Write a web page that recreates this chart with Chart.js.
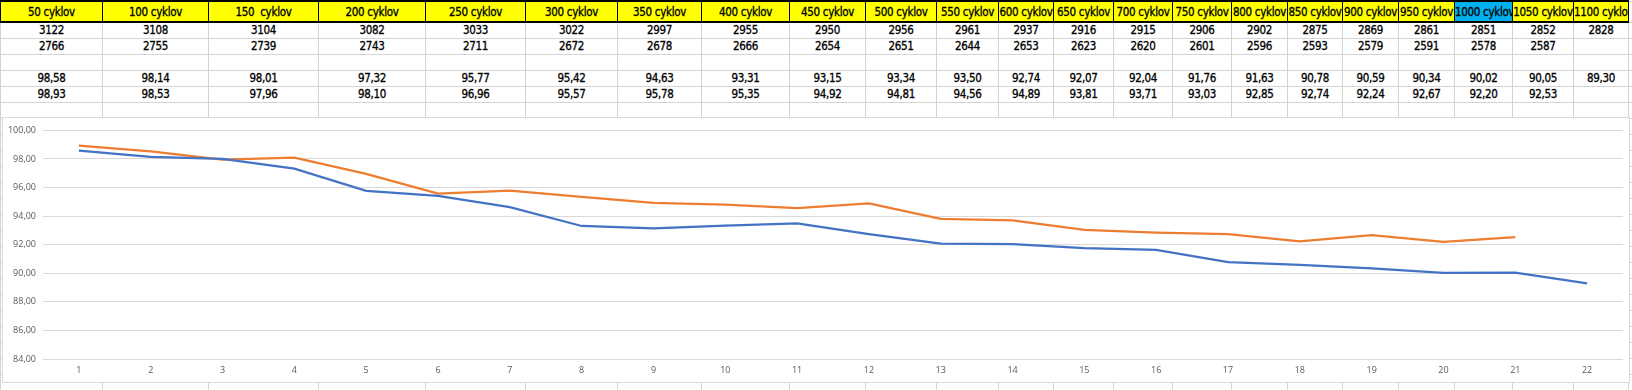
<html>
    <head>
        <title>cykly</title>
        <script src="https://cdn.jsdelivr.net/npm/chart.js@4.4.1/dist/chart.umd.min.js"></script>
        <style>
            body, html {
                margin: 0;
                padding: 0;
                width: 1632px;
                height: 390px;
                overflow: hidden;
                background: #fff;
            }
            * { box-sizing: border-box; }
            #sheet {
                position: absolute;
                left: 0;
                top: 0;
                width: 1632px;
                border-collapse: collapse;
                table-layout: fixed;
                font-family: "Liberation Sans Narrow", "DejaVu Sans Condensed", Lato, sans-serif;
                font-size: 11.5px;
                letter-spacing: -0.3px;
                -webkit-text-stroke: 0.3px #000;
                color: #000;
            }
            #sheet td {
                border: 1px solid #d4d4d4;
                height: 16px;
                padding: 0;
                text-align: center;
                white-space: pre;
                overflow: hidden;
                line-height: 14px;
            }
            #sheet tr.head td {
                height: 21px;
                background: #ffff00;
                border: 1px solid #000;
                border-top: 2px solid #000;
                border-bottom: 2px solid #000;
            }
            #sheet tr.head td.sel { background: #00b0f0; }
            #chartBox {
                position: absolute;
                left: 2px;
                top: 117px;
                width: 1628px;
                height: 266px;
                border: 1px solid #d9d9d9;
                background: #fff;
            }
        </style>
    </head>
    <body>
        <table id="sheet"><colgroup id="cols"></colgroup><tbody id="rows"></tbody></table>
        <div id="chartBox"><canvas id="cycleChart" width="1626" height="264"></canvas></div>
        <script>
            // hlavicka a hodnoty z tabulky
            let headers = ["50 cyklov", "100 cyklov", "150  cyklov", "200 cyklov", "250 cyklov", "300 cyklov", "350 cyklov", "400 cyklov",
                "450 cyklov", "500 cyklov", "550 cyklov", "600 cyklov", "650 cyklov", "700 cyklov", "750 cyklov", "800 cyklov",
                "850 cyklov", "900 cyklov", "950 cyklov", "1000 cyklov", "1050 cyklov", "1100 cyklov"];
            let countA = [3122, 3108, 3104, 3082, 3033, 3022, 2997, 2955, 2950, 2956, 2961, 2937, 2916, 2915, 2906, 2902, 2875, 2869, 2861, 2851, 2852, 2828];
            let countB = [2766, 2755, 2739, 2743, 2711, 2672, 2678, 2666, 2654, 2651, 2644, 2653, 2623, 2620, 2601, 2596, 2593, 2579, 2591, 2578, 2587, null];
            let percentA = [98.58, 98.14, 98.01, 97.32, 95.77, 95.42, 94.63, 93.31, 93.15, 93.34, 93.50, 92.74, 92.07, 92.04, 91.76, 91.63, 90.78, 90.59, 90.34, 90.02, 90.05, 89.30];
            let percentB = [98.93, 98.53, 97.96, 98.10, 96.96, 95.57, 95.78, 95.35, 94.92, 94.81, 94.56, 94.89, 93.81, 93.71, 93.03, 92.85, 92.74, 92.24, 92.67, 92.20, 92.53, null];
            let xLabels = ["1", "2", "3", "4", "5", "6", "7", "8", "9", "10", "11", "12", "13", "14", "15", "16", "17", "18", "19", "20", "21", "22"];
            let yTicks = { min: 84, max: 100, step: 2 };

            let colWidths = [102, 106, 110, 107, 100, 92, 84, 88, 76, 71, 62, 55, 60, 59, 59, 56, 55, 56, 56, 58, 61, 55, 4];

            function comma(v) { return v.toFixed(2).replace(".", ","); }

            function buildSheet() {
                let cols = document.getElementById("cols");
                colWidths.forEach(w => {
                    let c = document.createElement("col");
                    c.style.width = w + "px";
                    cols.appendChild(c);
                });
                let tbody = document.getElementById("rows");
                function addRow(values, cls) {
                    let tr = document.createElement("tr");
                    if (cls) tr.className = cls;
                    for (let i = 0; i < colWidths.length; i++) {
                        let td = document.createElement("td");
                        let v = values ? values[i] : null;
                        td.textContent = (v === null || v === undefined) ? "" : v;
                        if (cls === "head" && i === 19) td.className = "sel";
                        if (cls === "head" && i >= headers.length) { td.style.background = "#fff"; td.style.border = "1px solid #d4d4d4"; }
                        tr.appendChild(td);
                    }
                    tbody.appendChild(tr);
                }
                addRow(headers, "head");
                addRow(countA);
                addRow(countB);
                addRow(null);
                addRow(percentA.map(v => v === null ? null : comma(v)));
                addRow(percentB.map(v => v === null ? null : comma(v)));
                for (let k = 0; k < 18; k++) addRow(null);
            }
            buildSheet();

            let ctx = document.getElementById("cycleChart").getContext("2d");
            let cycleChartRef = new Chart(ctx, {
                type: "line",
                data: {
                    labels: xLabels,
                    datasets: [
                        {
                            data: percentA,
                            borderColor: "#4472c4",
                            backgroundColor: "#4472c4",
                            borderWidth: 2.25,
                            pointRadius: 0,
                            fill: false,
                            tension: 0,
                            spanGaps: false
                        },
                        {
                            data: percentB,
                            borderColor: "#ed7d31",
                            backgroundColor: "#ed7d31",
                            borderWidth: 2.25,
                            pointRadius: 0,
                            fill: false,
                            tension: 0,
                            spanGaps: false
                        }
                    ]
                },
                options: {
                    responsive: false,
                    animation: false,
                    layout: { padding: { left: 0, top: 10, right: 6, bottom: 0 } },
                    plugins: { legend: { display: false }, tooltip: { enabled: false } },
                    scales: {
                        x: {
                            offset: true,
                            grid: { display: false, drawTicks: false },
                            border: { display: false },
                            ticks: { color: "#595959", font: { family: "Open Sans", size: 9 }, padding: 6, maxRotation: 0, autoSkip: false },
                            afterFit: s => { s.height = 23; }
                        },
                        y: {
                            min: yTicks.min,
                            max: yTicks.max,
                            grid: { color: "#d9d9d9", lineWidth: 1, drawTicks: false },
                            border: { display: false },
                            ticks: { stepSize: yTicks.step, color: "#595959", font: { family: "Open Sans", size: 9 }, padding: 7, callback: v => comma(v) },
                            afterFit: s => { s.width = 40; }
                        }
                    }
                }
            });
        </script>
    </body>
</html>
